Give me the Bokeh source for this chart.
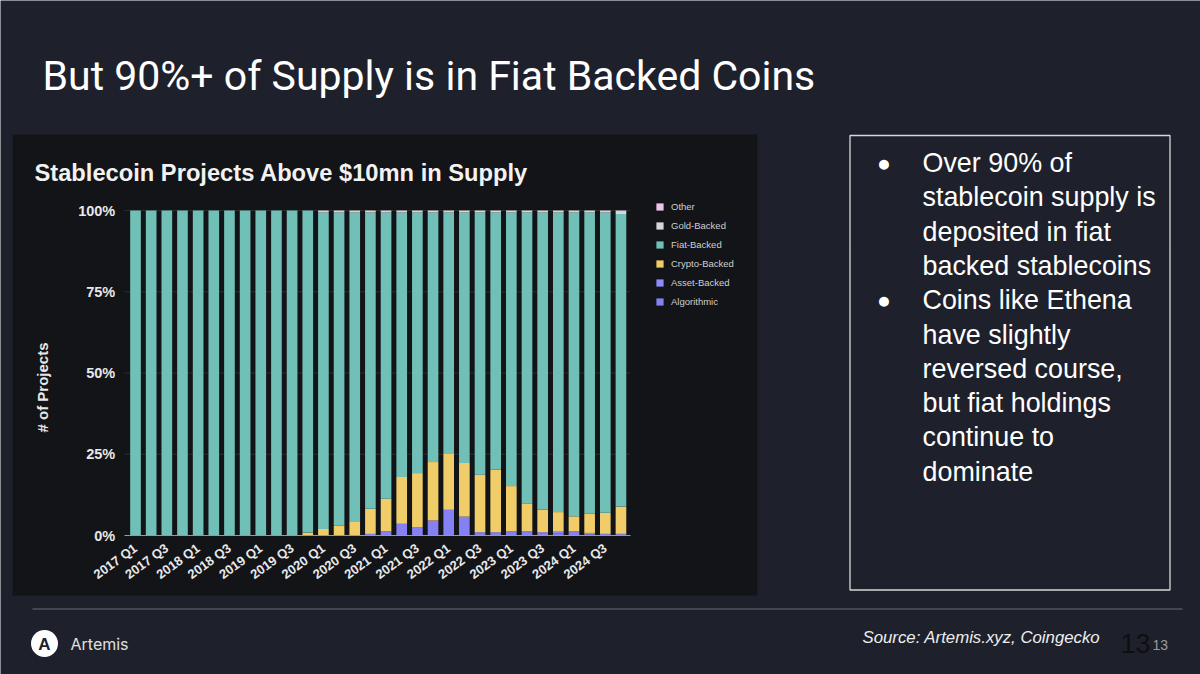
from bokeh.plotting import figure
from bokeh.models import (Range1d, FixedTicker, PrintfTickFormatter,
                          Legend, LegendItem, ColumnDataSource)
from bokeh.core.properties import value
from bokeh.embed import file_html
from bokeh.resources import INLINE

# ---------------- data ----------------
quarters = ["2017 Q1", "2017 Q2", "2017 Q3", "2017 Q4",
            "2018 Q1", "2018 Q2", "2018 Q3", "2018 Q4",
            "2019 Q1", "2019 Q2", "2019 Q3", "2019 Q4",
            "2020 Q1", "2020 Q2", "2020 Q3", "2020 Q4",
            "2021 Q1", "2021 Q2", "2021 Q3", "2021 Q4",
            "2022 Q1", "2022 Q2", "2022 Q3", "2022 Q4",
            "2023 Q1", "2023 Q2", "2023 Q3", "2023 Q4",
            "2024 Q1", "2024 Q2", "2024 Q3", "2024 Q4"]
shown_labels = ["2017 Q1", "2017 Q3", "2018 Q1", "2018 Q3", "2019 Q1", "2019 Q3",
                "2020 Q1", "2020 Q3", "2021 Q1", "2021 Q3", "2022 Q1", "2022 Q3",
                "2023 Q1", "2023 Q3", "2024 Q1", "2024 Q3"]

# percent of projects per category (stack order bottom -> top)
algorithmic = [0, 0, 0, 0, 0, 0, 0, 0, 0, 0, 0, 0, 0, 0, 0, 0.5,
               1.3, 3.6, 2.6, 4.6, 7.9, 5.8, 0.5, 0.5, 0.8, 0.8, 0.5, 0.7, 0.8, 0.3, 0.2, 0.2]
asset_backed = [0, 0, 0, 0, 0, 0, 0, 0, 0, 0, 0, 0, 0, 0, 0, 0,
                0, 0, 0, 0, 0, 0, 0.5, 0.5, 0.5, 0.5, 0.5, 0.5, 0.5, 0.5, 0.3, 0.3]
crypto_backed = [0, 0, 0, 0, 0, 0, 0, 0, 0, 0, 0, 0.9, 2.0, 3.0, 4.4, 7.7,
                 10.0, 14.4, 16.6, 18.0, 17.2, 16.5, 17.7, 19.2, 13.9, 8.6, 6.9, 6.0, 4.6, 5.9, 6.5, 8.4]
fiat_backed = [100, 100, 100, 100, 100, 100, 100, 100, 100, 100, 100, 99.1, 97.4, 96.4, 95.0, 91.2,
               88.1, 81.4, 80.2, 76.8, 74.3, 77.1, 80.7, 79.2, 84.2, 89.5, 91.5, 92.2, 93.5, 92.7, 92.4, 90.0]
gold_backed = [0, 0, 0, 0, 0, 0, 0, 0, 0, 0, 0, 0, 0.6, 0.6, 0.6, 0.6,
               0.6, 0.6, 0.6, 0.6, 0.6, 0.6, 0.6, 0.6, 0.6, 0.6, 0.6, 0.6, 0.6, 0.6, 0.6, 1.1]
other = [0, 0, 0, 0, 0, 0, 0, 0, 0, 0, 0, 0, 0, 0, 0, 0,
         0, 0, 0, 0, 0, 0, 0, 0, 0, 0, 0, 0, 0, 0, 0, 0]

series_names = ["Algorithmic", "Asset-Backed", "Crypto-Backed", "Fiat-Backed", "Gold-Backed", "Other"]
series_colors = ["#8580f3", "#8e8afc", "#f1cd6a", "#71c0b8", "#d6d6d6", "#f0c4e9"]

y_ticks = [0, 25, 50, 75, 100]

slide_title = "But 90%+ of Supply is in Fiat Backed Coins"
chart_title = "Stablecoin Projects Above $10mn in Supply"
bullet_lines = ["Over 90% of", "stablecoin supply is", "deposited in fiat",
                "backed stablecoins", "Coins like Ethena", "have slightly",
                "reversed course,", "but fiat holdings", "continue to", "dominate"]
bullet_starts = [0, 4]

# ---------------- layout / styles ----------------
W, H = 1200, 674
BG = "#1e212b"
PANEL = "#131418"
SANS = "Liberation Sans"

PITCH = 15.66      # px per quarter
X0 = 135.0         # px centre of first bar
ZERO_Y = 535.0     # px of 0 %
PX_PCT = 3.25      # px per percentage point

x_range = Range1d(-X0 / PITCH, (W - X0) / PITCH)
y_range = Range1d(-(H - ZERO_Y) / PX_PCT, ZERO_Y / PX_PCT)

p = figure(width=W, height=H, x_range=x_range, y_range=y_range,
           output_backend="svg", toolbar_location=None, min_border=0,
           background_fill_color=BG, border_fill_color=BG, outline_line_color=None)
p.extra_x_ranges = {"px": Range1d(0, W)}
p.extra_y_ranges = {"py": Range1d(H, 0)}
p.grid.visible = False

S = dict(x_range_name="px", y_range_name="py")

# chart panel background
p.quad(left=[12], right=[757], top=[134], bottom=[595], fill_color=PANEL,
       line_color=None, **S)

# horizontal grid lines at the y ticks, across the bar area
n = len(quarters)
p.segment(x0=[-0.7] * len(y_ticks), x1=[n - 0.4] * len(y_ticks), y0=y_ticks, y1=y_ticks,
          line_color="#2a2c32", line_width=1)

# stacked bars
src = ColumnDataSource(dict(x=list(range(n)), q=quarters, **{
    "Algorithmic": algorithmic, "Asset-Backed": asset_backed,
    "Crypto-Backed": crypto_backed, "Fiat-Backed": fiat_backed,
    "Gold-Backed": gold_backed, "Other": other}))
rs = p.vbar_stack(series_names, x="x", width=0.68, color=series_colors,
                  line_color=None, source=src)

# axes placed inside the canvas
p.yaxis.fixed_location = -0.72
p.yaxis.bounds = (-9, 100)
p.yaxis.ticker = FixedTicker(ticks=y_ticks)
p.yaxis.formatter = PrintfTickFormatter(format="%d%%")
p.yaxis.axis_line_color = None
p.yaxis.major_tick_line_color = None
p.yaxis.minor_tick_line_color = None
p.yaxis.major_tick_out = 0
p.yaxis.major_tick_in = 0
p.yaxis.major_label_standoff = 9
p.yaxis.major_label_text_font = SANS
p.yaxis.major_label_text_font_style = "bold"
p.yaxis.major_label_text_font_size = "14.5px"
p.yaxis.major_label_text_color = "#e8e8e8"
p.yaxis.axis_label = "# of Projects"
p.yaxis.axis_label_text_font = SANS
p.yaxis.axis_label_text_font_style = "bold"
p.yaxis.axis_label_text_font_size = "15px"
p.yaxis.axis_label_text_color = "#e8e8e8"
p.yaxis.axis_label_standoff = 24

p.xaxis.fixed_location = 0
p.xaxis.bounds = (-0.7, n - 0.4)
p.xaxis.ticker = FixedTicker(ticks=[quarters.index(q) for q in shown_labels])
p.xaxis.major_label_overrides = {quarters.index(q): q for q in shown_labels}
p.xaxis.axis_line_color = "#9a9a9a"
p.xaxis.major_tick_line_color = None
p.xaxis.minor_tick_line_color = None
p.xaxis.major_tick_out = 0
p.xaxis.major_tick_in = 0
p.xaxis.major_label_orientation = 0.63
p.xaxis.major_label_standoff = 11
p.xaxis.major_label_text_font = SANS
p.xaxis.major_label_text_font_style = "bold"
p.xaxis.major_label_text_font_size = "13px"
p.xaxis.major_label_text_color = "#e8e8e8"

# legend (top = last stacked series)
items = [LegendItem(label=nm, renderers=[r]) for nm, r in zip(series_names, rs)][::-1]
legend = Legend(items=items, location=(655, H - 196.5 - 114), orientation="vertical",
                border_line_color=None, background_fill_alpha=0, padding=0, margin=0,
                spacing=0, glyph_width=9, glyph_height=9, label_height=19,
                label_standoff=7, label_text_font=SANS, label_text_font_size="9.5px",
                label_text_color="#cfcfcf")
p.add_layout(legend)

# slide title and chart title
p.text(x=[42], y=[75], text=[slide_title], text_font=value("Roboto"),
       text_font_size="41px", text_color="#ffffff", text_baseline="middle",
       text_align="left", **S)
p.text(x=[34], y=[172], text=[chart_title], text_font=value(SANS),
       text_font_style="bold", text_font_size="23.7px", text_color="#f2f2f2",
       text_baseline="middle", text_align="left", **S)

# text box on the right
p.quad(left=[849.5], right=[1169.5], top=[135], bottom=[589.5], fill_color=None,
       line_color="#d8d8d8", line_width=1.3, **S)
LINE0, LSTEP = 162.5, 34.3
p.text(x=[883.5] * len(bullet_starts), y=[LINE0 + LSTEP * i for i in bullet_starts],
       text=["\u25cf"] * len(bullet_starts), text_font=value(SANS),
       text_font_size="23px", text_color="#ffffff", text_baseline="middle",
       text_align="center", **S)
p.text(x=[922] * len(bullet_lines), y=[LINE0 + LSTEP * i for i in range(len(bullet_lines))],
       text=bullet_lines, text_font=value(SANS), text_font_size="26.9px",
       text_color="#ffffff", text_baseline="middle", text_align="left", **S)

# footer
p.segment(x0=[32], y0=[608.5], x1=[1182], y1=[608.5], line_color="#6b6e75",
          line_width=1.2, **S)
p.scatter(x=[44], y=[643], size=27, marker="circle", fill_color="#ffffff",
          line_color=None, **S)
p.text(x=[44], y=[644], text=["A"], text_font=value(SANS), text_font_style="bold",
       text_font_size="17px", text_color="#1e212b", text_align="center",
       text_baseline="middle", **S)
p.text(x=[70], y=[643], text=["Artemis"], text_font=value("Inter"),
       text_font_size="16px", text_color="#e0e0e0", text_align="left",
       text_baseline="middle", **S)
p.text(x=[862], y=[637], text=["Source: Artemis.xyz, Coingecko"], text_font=value(SANS),
       text_font_style="italic", text_font_size="16.8px", text_color="#eeeeee",
       text_align="left", text_baseline="middle", **S)
p.text(x=[1120], y=[643], text=["13"], text_font=value(SANS),
       text_font_size="27px", text_color="#0e0f12", text_align="left",
       text_baseline="middle", **S)
p.text(x=[1152], y=[644], text=["13"], text_font=value(SANS),
       text_font_size="14px", text_color="#9a9a9a", text_align="left",
       text_baseline="middle", **S)

open("out.html", "w").write(file_html(p, INLINE))
